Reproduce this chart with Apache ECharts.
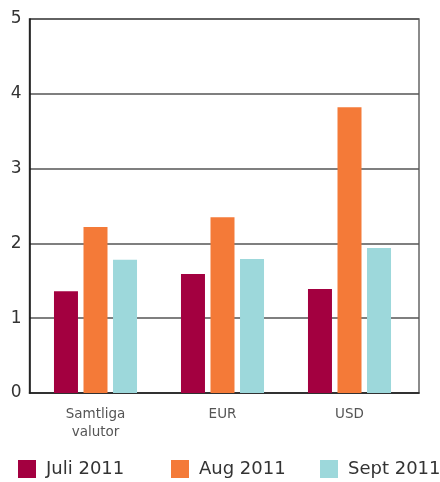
<!DOCTYPE html>
<html><head><meta charset="utf-8">
<script src="https://cdn.jsdelivr.net/npm/echarts@6/dist/echarts.min.js"></script>
<style>html,body{margin:0;padding:0;background:#fff}#c{width:440px;height:482px}</style>
</head><body><div id="c"></div>
<script>
var categories = ['Samtliga\nvalutor', 'EUR', 'USD'];
var seriesNames = ['Juli 2011', 'Aug 2011', 'Sept 2011'];
var juli = [1.36, 1.59, 1.39];
var aug = [2.22, 2.35, 3.82];
var sept = [1.78, 1.79, 1.94];
var yTicks = [0, 1, 2, 3, 4, 5];
var colors = ['#A30040', '#F47A38', '#9DD8DB'];
var legendLeft = [18, 171, 320];
var font = 'DejaVu Sans';

var chart = echarts.init(document.getElementById('c'));
var data = [juli, aug, sept];
chart.setOption({
  animation: false,
  textStyle: {fontFamily: font},
  grid: [
    {left: 29.5, right: 21, top: 19, bottom: 89, show: true, borderColor: '#666', borderWidth: 1.5},
    {left: 32, right: 27, top: 19, bottom: 89}
  ],
  legend: seriesNames.map(function (n, i) {
    return {data: [n], left: legendLeft[i], top: 460, padding: 0, itemWidth: 18, itemHeight: 18, itemGap: 0,
      icon: 'rect', textStyle: {fontSize: 18, color: '#333', fontFamily: font, padding: [0, 0, 0, 5]}};
  }),
  xAxis: [
    {type: 'category', gridIndex: 0, data: categories,
      axisLine: {lineStyle: {color: '#222', width: 1.5}}, axisTick: {show: false}, axisLabel: {show: false}},
    {type: 'category', gridIndex: 1, data: categories,
      axisLine: {show: false}, axisTick: {show: false},
      axisLabel: {color: '#555', fontSize: 13.5, lineHeight: 18, margin: 12, fontFamily: font}}
  ],
  yAxis: [
    {type: 'value', gridIndex: 0, min: yTicks[0], max: yTicks[yTicks.length - 1], interval: 1,
      axisLine: {show: true, lineStyle: {color: '#111', width: 1.5}}, axisTick: {show: false},
      axisLabel: {color: '#333', fontSize: 17, margin: 8, fontFamily: font},
      splitLine: {lineStyle: {color: '#555', width: 1.5}}},
    {type: 'value', gridIndex: 1, min: yTicks[0], max: yTicks[yTicks.length - 1], interval: 1,
      show: false, splitLine: {show: false}}
  ],
  series: data.map(function (d, i) {
    return {name: seriesNames[i], type: 'bar', xAxisIndex: 1, yAxisIndex: 1, data: d,
      barWidth: 24, barGap: '23%', itemStyle: {color: colors[i]}};
  })
});
</script></body></html>
